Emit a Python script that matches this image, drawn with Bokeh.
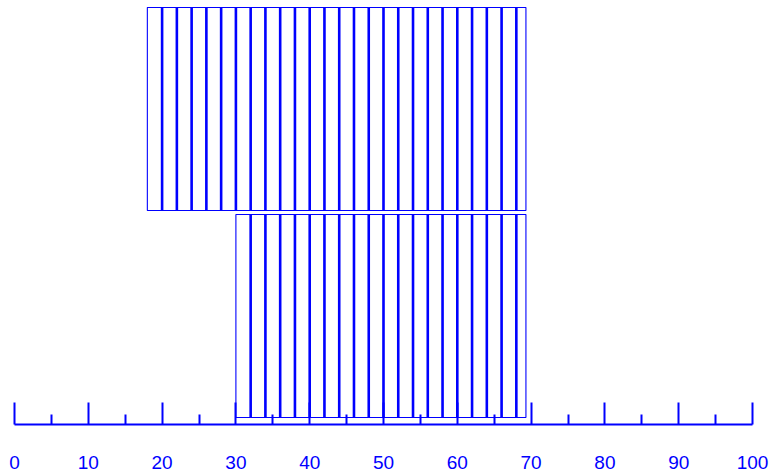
from bokeh.plotting import figure
from bokeh.models import Range1d, FixedTicker, ColumnDataSource, GlobalInlineStyleSheet
from bokeh.embed import file_html
from bokeh.resources import INLINE

# ---- data ----
rows = ["top", "bottom"]
row_index = [1, 0]
top_edges = [18, 20, 22, 24, 26, 28, 30, 32, 34, 36, 38, 40, 42, 44, 46, 48,
             50, 52, 54, 56, 58, 60, 62, 64, 66, 68, 69.3]
bottom_edges = [30, 32, 34, 36, 38, 40, 42, 44, 46, 48, 50, 52, 54, 56, 58,
                60, 62, 64, 66, 68, 69.3]
tick_values = [0, 10, 20, 30, 40, 50, 60, 70, 80, 90, 100]
minor_tick_values = [5, 15, 25, 35, 45, 55, 65, 75, 85, 95]

BLUE = "#0000FF"
bar_h = 0.98

lefts, rights, bottoms, tops = [], [], [], []
dx, dy0, dy1 = [], [], []
for idx, edges in zip(row_index, [top_edges, bottom_edges]):
    for a, b in zip(edges[:-1], edges[1:]):
        lefts.append(a)
        rights.append(b)
        bottoms.append(idx - bar_h / 2)
        tops.append(idx + bar_h / 2)
    for e in edges[1:-1]:          # shared edges between neighbouring strips
        dx.append(e)
        dy0.append(idx - bar_h / 2)
        dy1.append(idx + bar_h / 2)

src = ColumnDataSource(dict(left=lefts, right=rights, bottom=bottoms, top=tops))
div_src = ColumnDataSource(dict(x=dx, y0=dy0, y1=dy1))

p = figure(width=769, height=472,
           x_range=Range1d(0, 100), y_range=Range1d(-0.524, 1.495),
           output_backend="svg", toolbar_location=None,
           y_axis_location=None,
           min_border_left=14, min_border_right=17,
           min_border_top=6, min_border_bottom=48)

p.quad(left="left", right="right", bottom="bottom", top="top", source=src,
       fill_color="white", line_color=BLUE, line_width=1.1)
p.segment(x0="x", x1="x", y0="y0", y1="y1", source=div_src,
          line_color=BLUE, line_width=2.6)

ax = p.xaxis[0]
ax.ticker = FixedTicker(ticks=tick_values, minor_ticks=minor_tick_values)
ax.axis_line_color = BLUE
ax.axis_line_width = 2
ax.major_tick_line_color = BLUE
ax.major_tick_line_width = 2
ax.major_tick_in = 22
ax.major_tick_out = 0
ax.minor_tick_line_color = BLUE
ax.minor_tick_line_width = 2
ax.minor_tick_in = 10
ax.minor_tick_out = 0
ax.major_label_text_color = BLUE
ax.major_label_text_font = "Liberation Sans"
ax.major_label_text_font_size = "19px"
ax.major_label_standoff = 31

p.xgrid.visible = False
p.ygrid.visible = False
p.outline_line_color = None
p.background_fill_color = "white"
p.border_fill_color = "white"
p.stylesheets = [GlobalInlineStyleSheet(
    css="html, body { margin: 0; padding: 0; overflow: hidden; }")]

open("out.html", "w").write(file_html(p, INLINE))
